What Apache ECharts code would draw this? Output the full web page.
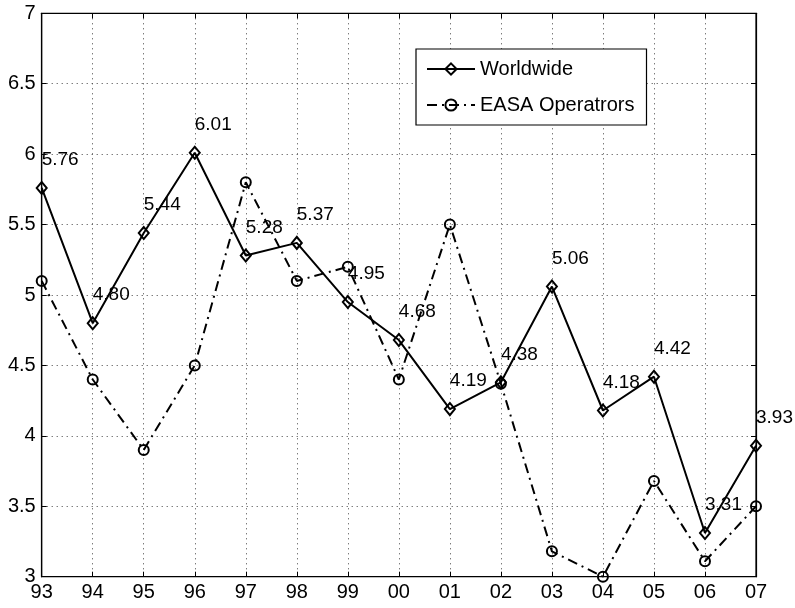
<!DOCTYPE html>
<html>
<head>
<meta charset="utf-8">
<script src="https://cdn.jsdelivr.net/npm/echarts@6/dist/echarts.min.js"></script>
<style>html,body{margin:0;padding:0;background:#fff;}#c{width:795px;height:608px;}</style>
</head>
<body>
<div id="c"></div>
<script>
const years = ['93','94','95','96','97','98','99','00','01','02','03','04','05','06','07'];
const worldwide = [5.76, 4.80, 5.44, 6.01, 5.28, 5.37, 4.95, 4.68, 4.19, 4.38, 5.06, 4.18, 4.42, 3.31, 3.93];
const easa = [5.10, 4.40, 3.90, 4.50, 5.80, 5.10, 5.20, 4.40, 5.50, 4.37, 3.18, 3.00, 3.68, 3.11, 3.50];
const yTicks = ['3','3.5','4','4.5','5','5.5','6','6.5','7'];

const FONT = '"Liberation Sans", Arial, Helvetica, sans-serif';
const chart = echarts.init(document.getElementById('c'), null, {renderer: 'canvas'});
const hollow = {color: 'rgba(0,0,0,0)', borderColor: '#000', borderWidth: 2};
chart.setOption({
  animation: false,
  backgroundColor: '#fff',
  textStyle: {fontFamily: FONT},
  grid: {left: 41.7, right: 39, top: 13.3, bottom: 31.3, show: true, borderColor: '#000', borderWidth: 1.2, backgroundColor: 'transparent'},
  legend: {
    orient: 'vertical', left: 416, top: 49,
    padding: [10, 12, 10, 10],
    itemWidth: 48, itemHeight: 14, itemGap: 16,
    borderColor: '#000', borderWidth: 1.2, backgroundColor: '#fff',
    textStyle: {fontSize: 20, color: '#000', fontFamily: FONT},
    data: ['Worldwide', 'EASA Operatrors']
  },
  xAxis: [{
    type: 'category', data: years, boundaryGap: false,
    axisLine: {lineStyle: {color: '#000', width: 1.2}},
    axisTick: {inside: true, length: 5, lineStyle: {color: '#000'}},
    axisLabel: {color: '#000', fontSize: 20, margin: 6, fontFamily: FONT},
    splitLine: {show: true, lineStyle: {color: '#444', type: [1, 4], width: 1}}
  }, {
    type: 'category', data: years, boundaryGap: false, position: 'top',
    axisLine: {lineStyle: {color: '#000', width: 1.2}},
    axisTick: {inside: true, length: 5, lineStyle: {color: '#000'}},
    axisLabel: {show: false}, splitLine: {show: false}
  }],
  yAxis: [{
    type: 'value', min: 3, max: 7, interval: 0.5,
    axisLine: {show: true, lineStyle: {color: '#000', width: 1.2}},
    axisTick: {show: true, inside: true, length: 5, lineStyle: {color: '#000'}},
    axisLabel: {color: '#000', fontSize: 20, margin: 6, fontFamily: FONT,
      formatter: function (v) { const i = Math.round((v - 3) / 0.5); return yTicks[i]; }},
    splitLine: {show: true, lineStyle: {color: '#444', type: [1, 4], width: 1}}
  }, {
    type: 'value', min: 3, max: 7, interval: 0.5, position: 'right',
    axisLine: {show: true, lineStyle: {color: '#000', width: 1.2}},
    axisTick: {show: true, inside: true, length: 5, lineStyle: {color: '#000'}},
    axisLabel: {show: false}, splitLine: {show: false}
  }],
  series: [{
    name: 'Worldwide', type: 'line', data: worldwide,
    symbol: 'diamond', symbolSize: [10, 12], showAllSymbol: true,
    color: '#000',
    lineStyle: {color: '#000', width: 2, type: 'solid'},
    itemStyle: hollow,
    label: {show: true, position: ['50%', '50%'], offset: [0, -28], align: 'left', verticalAlign: 'middle',
      color: '#000', fontSize: 19, fontFamily: FONT,
      formatter: function (p) { return p.value.toFixed(2); }},
    z: 3
  }, {
    name: 'EASA Operatrors', type: 'line', data: easa,
    symbol: 'circle', symbolSize: 10, showAllSymbol: true,
    color: '#000',
    lineStyle: {color: '#000', width: 2, type: [10, 5, 2, 5]},
    itemStyle: hollow,
    z: 2
  }]
});
</script>
</body>
</html>
